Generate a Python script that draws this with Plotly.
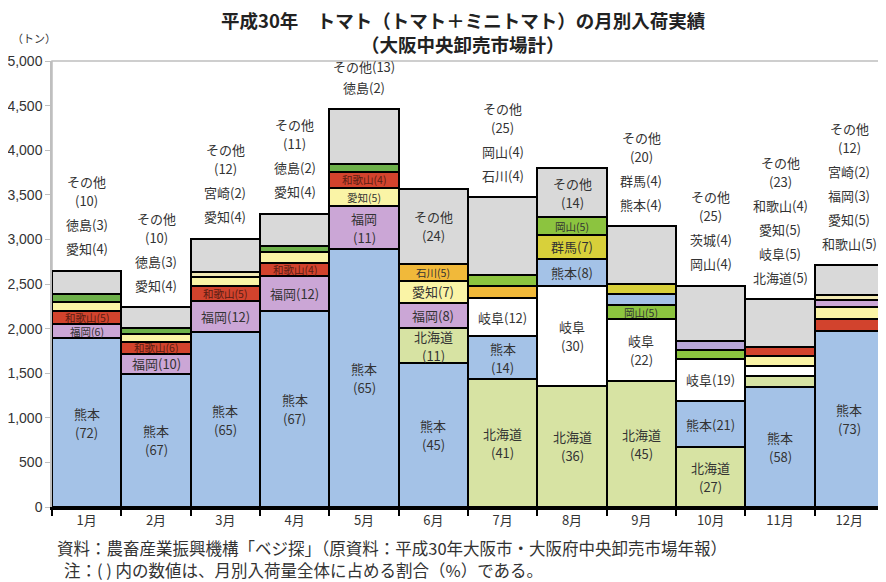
import plotly.graph_objects as go

# ---------------- data ----------------
months = ["1月", "2月", "3月", "4月", "5月", "6月", "7月", "8月", "9月", "10月", "11月", "12月"]

# stack segments per month, bottom -> top
seg_prefs = [
    ["熊本", "福岡", "和歌山", "愛知", "徳島", "その他"],
    ["熊本", "福岡", "和歌山", "愛知", "徳島", "その他"],
    ["熊本", "福岡", "和歌山", "愛知", "宮崎", "その他"],
    ["熊本", "福岡", "和歌山", "愛知", "徳島", "その他"],
    ["熊本", "福岡", "愛知", "和歌山", "徳島", "その他"],
    ["熊本", "北海道", "福岡", "愛知", "石川", "その他"],
    ["北海道", "熊本", "岐阜", "石川", "岡山", "その他"],
    ["北海道", "岐阜", "熊本", "群馬", "岡山", "その他"],
    ["北海道", "岐阜", "岡山", "熊本", "群馬", "その他"],
    ["北海道", "熊本", "岐阜", "岡山", "茨城", "その他"],
    ["熊本", "北海道", "岐阜", "愛知", "和歌山", "その他"],
    ["熊本", "和歌山", "愛知", "福岡", "宮崎", "その他"],
]
seg_tons = [
    [1890, 165, 140, 105, 85, 265],
    [1495, 225, 130, 95, 65, 230],
    [1960, 350, 165, 100, 60, 375],
    [2200, 395, 140, 120, 70, 365],
    [2890, 480, 210, 175, 95, 610],
    [1610, 395, 285, 245, 185, 850],
    [1430, 490, 420, 135, 130, 865],
    [1360, 1120, 305, 265, 200, 550],
    [1415, 690, 155, 125, 120, 645],
    [670, 520, 470, 100, 100, 620],
    [1350, 115, 115, 115, 95, 540],
    [1975, 135, 135, 80, 55, 330],
]
seg_pct = [
    [72, 6, 5, 4, 3, 10],
    [67, 10, 6, 4, 3, 10],
    [65, 12, 5, 4, 2, 12],
    [67, 12, 4, 4, 2, 11],
    [65, 11, 5, 4, 2, 13],
    [45, 11, 8, 7, 5, 24],
    [41, 14, 12, 4, 4, 25],
    [36, 30, 8, 7, 5, 14],
    [45, 22, 5, 4, 4, 20],
    [27, 21, 19, 4, 4, 25],
    [58, 5, 5, 5, 4, 23],
    [73, 5, 5, 3, 2, 12],
]
# labels written above each bar (top -> bottom)
above_lines = [
    ["その他", "(10)", "徳島(3)", "愛知(4)"],
    ["その他", "(10)", "徳島(3)", "愛知(4)"],
    ["その他", "(12)", "宮崎(2)", "愛知(4)"],
    ["その他", "(11)", "徳島(2)", "愛知(4)"],
    ["その他(13)", "徳島(2)"],
    [],
    ["その他", "(25)", "岡山(4)", "石川(4)"],
    [],
    ["その他", "(20)", "群馬(4)", "熊本(4)"],
    ["その他", "(25)", "茨城(4)", "岡山(4)"],
    ["その他", "(23)", "和歌山(4)", "愛知(5)", "岐阜(5)", "北海道(5)"],
    ["その他", "(12)", "宮崎(2)", "福岡(3)", "愛知(5)", "和歌山(5)"],
]

# ---------------- style ----------------
# label layout inside segments: 2 = two lines, 1 = one line, 0 = none
label_style = [
    [2, 1, 1, 0, 0, 0],
    [2, 1, 1, 0, 0, 0],
    [2, 1, 1, 0, 0, 0],
    [2, 1, 1, 0, 0, 0],
    [2, 2, 1, 1, 0, 0],
    [2, 2, 1, 1, 1, 2],
    [2, 2, 1, 0, 0, 0],
    [2, 2, 1, 1, 1, 2],
    [2, 2, 1, 0, 0, 0],
    [2, 1, 1, 0, 0, 0],
    [2, 0, 0, 0, 0, 0],
    [2, 0, 0, 0, 0, 0],
]
COL = {
    "熊本": "#a4c2e7", "北海道": "#d7e3a3", "岐阜": "#ffffff", "福岡": "#cba6d6",
    "和歌山": "#d2432d", "愛知": "#faf4a6", "徳島": "#6db04a", "岡山": "#8cc43f",
    "石川": "#f1b93a", "群馬": "#d8d03a", "宮崎": "#f1e9b4", "茨城": "#b9a6d9",
    "その他": "#d9d9d9",
}
FONT = "Noto Sans CJK JP"
NUMFONT = "Liberation Sans, Noto Sans CJK JP"
TXT = "#333333"
PLOT_H = 446
YMAX = 5000

fig = go.Figure()
annots = []
nlev = max(len(s) for s in seg_prefs)
for lev in range(nlev):
    ys, cols = [], []
    for m in range(len(months)):
        p = seg_prefs[m][lev]
        ys.append(seg_tons[m][lev])
        cols.append(COL[p])
    fig.add_trace(go.Bar(
        x=months, y=ys, width=1,
        marker=dict(color=cols, line=dict(color="black", width=2.5)),
        hoverinfo="skip", showlegend=False,
    ))


def label(x, y, text, size, color, shift=0):
    return dict(x=x, y=y, xref="x", yref="y", yshift=shift, text=text, showarrow=False,
                yanchor="middle", borderpad=0, borderwidth=0,
                font=dict(size=size, color=color, family=FONT))


# labels inside segments
for m in range(len(months)):
    base = 0
    for lev, p in enumerate(seg_prefs[m]):
        v = seg_tons[m][lev]
        pc = seg_pct[m][lev]
        st = label_style[m][lev]
        mid = base + v / 2
        red = p == "和歌山"
        color = "#5a1d14" if red else TXT
        if st == 2:
            annots.append(label(months[m], mid, p, 13, color, 9.5))
            annots.append(label(months[m], mid, f"({pc})", 13, color, -9.5))
        elif st == 1:
            thin = v * PLOT_H / YMAX < 19
            annots.append(label(months[m], mid, f"{p}({pc})", 10.5 if (red or thin) else 13, color))
        base += v

# labels above bars
for m, lines in enumerate(above_lines):
    total = sum(seg_tons[m])
    off = 22
    prev = None
    for k, line in enumerate(reversed(lines)):
        if k > 0:
            if line == "その他" and prev.startswith("("):
                off += 19
            elif line.startswith("その他("):
                off += 21
            else:
                off += 24
        annots.append(label(months[m], total, line, 13, TXT, off))
        prev = line

# titles, unit, notes
annots += [
    dict(x=0.494, y=1.092, xref="paper", yref="paper", text="<b>平成30年　トマト（トマト＋ミニトマト）の月別入荷実績</b>",
         showarrow=False, xanchor="center", yanchor="middle", font=dict(size=18.5, color="#222", family=FONT)),
    dict(x=0.494, y=1.039, xref="paper", yref="paper", text="<b>（大阪中央卸売市場計）</b>",
         showarrow=False, xanchor="center", yanchor="middle", font=dict(size=18.5, color="#222", family=FONT)),
    dict(x=-0.05, y=1.051, xref="paper", yref="paper", text="（トン）", showarrow=False,
         xanchor="left", yanchor="middle", font=dict(size=11, color=TXT, family=FONT)),
    dict(x=0.004, y=-0.093, xref="paper", yref="paper",
         text="資料：農畜産業振興機構「ベジ探」（原資料：平成30年大阪市・大阪府中央卸売市場年報）",
         showarrow=False, xanchor="left", yanchor="middle", font=dict(size=16.5, color=TXT, family=FONT)),
    dict(x=0.012, y=-0.141, xref="paper", yref="paper",
         text="注：( ) 内の数値は、月別入荷量全体に占める割合（%）である。",
         showarrow=False, xanchor="left", yanchor="middle", font=dict(size=16.5, color=TXT, family=FONT)),
]

yt = list(range(0, YMAX + 1, 500))
fig.update_layout(
    width=878, height=574, barmode="stack", bargap=0,
    margin=dict(l=44, r=2, t=53, b=75, autoexpand=False),
    plot_bgcolor="white", paper_bgcolor="white",
    annotations=annots,
    shapes=[dict(type="rect", xref="paper", yref="paper", x0=0, x1=1, y0=0, y1=1,
                 line=dict(color="#bfbfbf", width=1.5), layer="below")],
    xaxis=dict(type="category", range=[-0.5, 11.5], showline=True, linecolor="black", linewidth=2.5,
               ticks="outside", tickson="boundaries", ticklen=6, tickwidth=2, tickcolor="black",
               tickfont=dict(size=13, color=TXT, family=FONT), showgrid=False, automargin=False),
    yaxis=dict(range=[0, YMAX], tickvals=yt, ticktext=[f"{v:,}" for v in yt],
               showgrid=False, zeroline=False, showline=True, linecolor="#bfbfbf", linewidth=1.5,
               ticks="outside", ticklen=5, tickcolor="#bfbfbf", automargin=False,
               tickfont=dict(size=14, color=TXT, family=NUMFONT)),
)

fig.write_html("out.html")
